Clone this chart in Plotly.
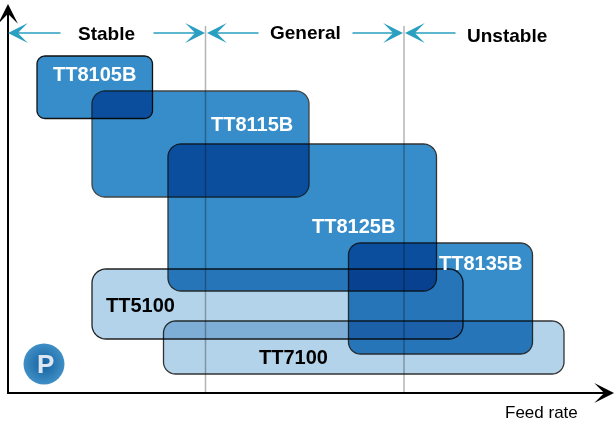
"""
Insert grades by feed rate and machining stability
"""

import math
import plotly.graph_objects as go

WIDTH = 614
HEIGHT = 424

# grade boxes, drawn back to front
grades = ['TT7100', 'TT5100', 'TT8135B', 'TT8125B', 'TT8115B', 'TT8105B']
box_left = [163.5, 92, 348.5, 168, 92, 37]
box_right = [564, 463, 532.5, 436.5, 309, 152.5]
box_top = [321, 269, 243, 144, 91, 56]
box_bottom = [374, 339, 354, 291, 197, 118.5]
box_radius = [12, 14, 12, 13, 13, 8]
box_fill = ['#B3D3EA', '#B3D3EA', '#368DC9', '#368DC9', '#368DC9', '#368DC9']
box_edge = ['#333333', '#222222', '#333333', '#333333', '#444444', '#111111']

# grade labels
label_x = [94, 252, 353, 480, 140, 293]
label_y = [74, 124, 226, 263, 305, 357]
label_text = ['TT8105B', 'TT8115B', 'TT8125B', 'TT8135B', 'TT5100', 'TT7100']
label_color = ['#FFFFFF', '#FFFFFF', '#FFFFFF', '#FFFFFF', '#000000', '#000000']

# condition zones
zone_names = ['Stable', 'General', 'Unstable']
zone_x = [106.5, 305.5, 506.5]
zone_y = [33, 32, 35.5]
zone_dividers = [205.5, 404]
arrow_tail = [62, 152, 260, 351, 457]
arrow_tip = [8, 205, 207, 403, 405]
arrow_y = 33


def rounded_box(left, right, top, bottom, r):
    """Outline of a rounded rectangle as x and y lists"""
    corners = [
        (right - r, top + r, -90),
        (right - r, bottom - r, 0),
        (left + r, bottom - r, 90),
        (left + r, top + r, 180),
    ]
    xs, ys = [], []
    for cx, cy, start in corners:
        for step in range(13):
            angle = math.radians(start + step * 7.5)
            xs.append(cx + r * math.cos(angle))
            ys.append(cy + r * math.sin(angle))
    xs.append(xs[0])
    ys.append(ys[0])
    return xs, ys


fig = go.Figure()

for i, name in enumerate(grades):
    xs, ys = rounded_box(box_left[i], box_right[i], box_top[i], box_bottom[i], box_radius[i])
    fig.add_trace(go.Scatter(
        x=xs, y=ys, name=name, mode='lines',
        fill='toself', fillcolor=box_fill[i],
        line=dict(color=box_edge[i], width=1.3, simplify=False),
        hoverinfo='skip'
    ))

# zone dividers
for x in zone_dividers:
    fig.add_trace(go.Scatter(
        x=[x, x], y=[26, 393], mode='lines',
        line=dict(color='#B4B4B4', width=1.5),
        hoverinfo='skip'
    ))

# axes
fig.add_trace(go.Scatter(
    x=[8, 8, 600], y=[15, 393, 393], mode='lines',
    line=dict(color='#000000', width=2),
    hoverinfo='skip'
))

# logo badge
fig.add_trace(go.Scatter(
    x=[44], y=[364], mode='markers',
    marker=dict(size=41, color='#3F8FC6', line=dict(width=0),
                gradient=dict(type='radial', color='#14609E')),
    hoverinfo='skip'
))

annotations = []

for tail, tip in zip(arrow_tail, arrow_tip):
    annotations.append(dict(
        x=tip, y=arrow_y, ax=tail, ay=arrow_y, xref='x', yref='y', axref='x', ayref='y',
        text='', showarrow=True, arrowhead=3, arrowsize=2.2, arrowwidth=1.5, arrowcolor='#2A9FC0'
    ))

annotations.append(dict(
    x=8, y=4, ax=8, ay=30, xref='x', yref='y', axref='x', ayref='y',
    text='', showarrow=True, arrowhead=3, arrowsize=1.65, arrowwidth=2, arrowcolor='#000000'
))
annotations.append(dict(
    x=614, y=393, ax=590, ay=393, xref='x', yref='y', axref='x', ayref='y',
    text='', showarrow=True, arrowhead=3, arrowsize=1.65, arrowwidth=2, arrowcolor='#000000'
))

for x, y, name in zip(zone_x, zone_y, zone_names):
    annotations.append(dict(x=x, y=y, text=f'<b>{name}</b>', showarrow=False,
                            font=dict(size=19, color='#000000')))

for x, y, name, color in zip(label_x, label_y, label_text, label_color):
    annotations.append(dict(x=x, y=y, text=f'<b>{name}</b>', showarrow=False,
                            font=dict(size=20, color=color)))

annotations.append(dict(x=541, y=412, text='Feed rate', showarrow=False,
                        font=dict(size=17, color='#000000')))
annotations.append(dict(x=45.5, y=364, text='<b>P</b>', showarrow=False,
                        font=dict(size=26, color='#DCE6F0')))

fig.update_layout(
    width=WIDTH,
    height=HEIGHT,
    margin=dict(l=0, r=0, t=0, b=0),
    paper_bgcolor='#FFFFFF',
    plot_bgcolor='#FFFFFF',
    font=dict(family='Liberation Sans, Arial, sans-serif'),
    showlegend=False,
    xaxis=dict(range=[0, WIDTH], visible=False, fixedrange=True),
    yaxis=dict(range=[HEIGHT, 0], visible=False, fixedrange=True),
    annotations=annotations
)

# overlapping boxes darken each other like ink
blend = ("document.querySelectorAll('.scatterlayer .trace')"
         ".forEach(function(t){t.style.mixBlendMode='multiply';});"
         "document.body.style.margin='0';")

fig.write_html("out.html", config={'displayModeBar': False}, post_script=blend)
